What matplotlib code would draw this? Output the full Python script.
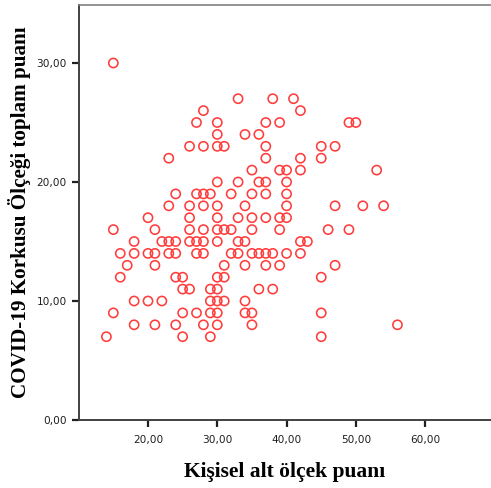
import matplotlib
matplotlib.use("Agg")
import matplotlib.pyplot as plt
from matplotlib.ticker import FuncFormatter, FixedLocator

# y value -> list of x values (Kişisel alt ölçek puanı)
y_levels = [30, 27, 26, 25, 24, 23, 22, 21, 20, 19, 18, 17, 16, 15, 14, 13, 12, 11, 10, 9, 8, 7]
x_by_level = [
    [15],
    [33, 38, 41],
    [28, 42],
    [27, 30, 37, 39, 49, 50],
    [30, 34, 36],
    [26, 28, 30, 31, 37, 45, 47],
    [23, 37, 42, 45],
    [35, 39, 40, 42, 53],
    [30, 33, 36, 37, 40],
    [24, 27, 28, 29, 32, 35, 37, 40],
    [23, 26, 28, 30, 34, 40, 47, 51, 54],
    [20, 26, 30, 33, 35, 37, 39, 40],
    [15, 21, 26, 28, 30, 31, 32, 35, 39, 46, 49],
    [18, 22, 23, 24, 26, 27, 28, 30, 33, 34, 42, 43],
    [16, 18, 20, 21, 23, 24, 27, 28, 32, 33, 35, 36, 37, 38, 40, 42],
    [17, 21, 31, 34, 37, 39, 47],
    [16, 24, 25, 30, 31, 45],
    [25, 26, 29, 30, 36, 38],
    [18, 20, 22, 29, 30, 31, 34],
    [15, 25, 27, 29, 30, 34, 35, 45],
    [18, 21, 24, 28, 30, 35, 56],
    [14, 25, 29, 45],
]
x_ticks = [20, 30, 40, 50, 60]
y_ticks = [0, 10, 20, 30]
x_label = "Kişisel alt ölçek puanı"
y_label = "COVID-19 Korkusu Ölçeği toplam puanı"

xs, ys = [], []
for yv, xl in zip(y_levels, x_by_level):
    for xv in xl:
        xs.append(xv)
        ys.append(yv)

W, H = 491, 488
fig = plt.figure(figsize=(W / 100, H / 100), dpi=100)
left_px, right_px, top_px, bot_px = 78.7, 491, 4.7, 420
ax = fig.add_axes([left_px / W, 1 - bot_px / H, (right_px - left_px) / W, (bot_px - top_px) / H])

ax.scatter(xs, ys, s=44, facecolors="none", edgecolors="#ff3c3c", linewidths=1.15, zorder=3)

ax.set_xlim(10, 69.5)
ax.set_ylim(0, 34.9)
ax.xaxis.set_major_locator(FixedLocator(x_ticks))
ax.yaxis.set_major_locator(FixedLocator(y_ticks))
fmt = FuncFormatter(lambda v, p: f"{v:.2f}".replace(".", ","))
ax.xaxis.set_major_formatter(fmt)
ax.yaxis.set_major_formatter(fmt)

ax.tick_params(axis="both", direction="out", length=5, width=1.6, color="#202020",
               labelsize=7.6, labelcolor="#202020")
ax.tick_params(axis="x", pad=6)
ax.tick_params(axis="y", pad=3.5)

ax.spines["right"].set_visible(False)
ax.spines["top"].set_color("#808080")
ax.spines["top"].set_linewidth(1.2)
for s in ("left", "bottom"):
    ax.spines[s].set_color("#404040")
    ax.spines[s].set_linewidth(1.4)

ax.set_xlabel(x_label, family="Liberation Serif", fontweight="bold", fontsize=15.5, labelpad=12)
ax.set_ylabel(y_label, family="Liberation Serif", fontweight="bold", fontsize=15.2, labelpad=4)

fig.savefig("out.png", dpi=100, facecolor="white")
